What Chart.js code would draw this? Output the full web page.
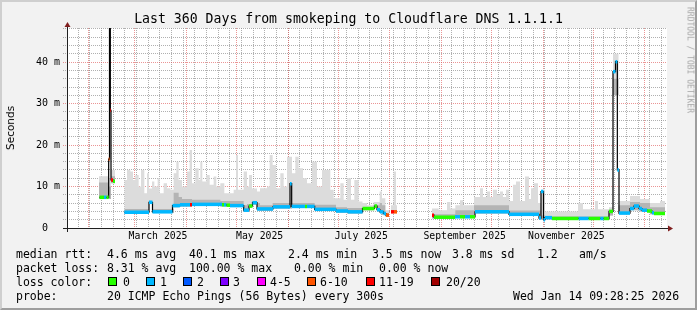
<!DOCTYPE html>
<html>
<head>
<meta charset="utf-8">
<script src="https://cdn.jsdelivr.net/npm/chart.js@4.4.1/dist/chart.umd.min.js"></script>
<style>
  html, body { margin: 0; padding: 0; background: #f2f2f2; }
  #marco { position: relative; width: 697px; height: 310px; overflow: hidden; background: #f2f2f2; }
  #grafico { position: absolute; left: 0; top: 0; }
  #borde { position: absolute; left: 0; top: 0; width: 697px; height: 310px; box-sizing: border-box;
           border-top: 2px solid #cfcfcf; border-left: 2px solid #cfcfcf;
           border-right: 2px solid #9e9e9e; border-bottom: 2px solid #9e9e9e; pointer-events: none; }
  #titulo { position: absolute; left: 0; top: 11px; width: 697px; text-align: center;
            font-family: 'DejaVu Sans Mono', monospace; font-size: 13.2px; line-height: 16px; color: #000; white-space: pre; }
  .txt { position: absolute; font-family: 'DejaVu Sans Mono', monospace; font-size: 11.5px; line-height: 14px;
         color: #000; white-space: pre; }
  .caja { position: absolute; width: 7px; height: 7px; border: 1px solid #000; }
  #segundos { position: absolute; left: 10px; top: 128px; transform: translate(-50%, -50%) rotate(-90deg);
              font-family: 'DejaVu Sans', sans-serif; font-size: 10.5px; color: #000; white-space: nowrap; }
  #marca { position: absolute; left: 690px; top: 60px; transform: translate(-50%, -50%) rotate(90deg);
           font-family: 'DejaVu Sans Mono', monospace; font-size: 8px; color: #a8a8a8; white-space: nowrap; }
</style>
</head>
<body>
<div id="marco">
  <canvas id="grafico" width="697" height="310"></canvas>
  <div id="titulo"></div>
  <div id="segundos">Seconds</div>
  <div id="marca">RRDTOOL / TOBI OETIKER</div>
  <div id="leyenda"></div>
  <div id="borde"></div>
</div>
<script>
// Eje X en días desde el inicio (19 ene 2025 09:28:25), 360 días
const titulo = 'Last 360 Days from smokeping to Cloudflare DNS 1.1.1.1';
const diasTotales = 360;

// Mediana: día de inicio de cada tramo, valor (ms) y clase de pérdida
const medDia = [19.5, 22.2, 23.7, 25.0, 25.5, 26.0, 26.4, 27.6, 28.8,
    34.4, 49.2, 51.3, 63.3, 67.8, 73.8, 75.0, 93.0, 94.2, 95.7, 97.8,
    106.0, 109.2, 111.3, 114.0, 123.6, 133.8, 134.8, 142.8, 144.0, 148.6,
    161.4, 168.6, 177.3, 184.5, 186.0, 187.8, 189.9, 191.4, 193.2,
    194.4, 196.2, 198.0,
    219.0, 220.2, 232.8, 235.8, 238.8, 241.8, 244.8, 265.2, 283.2, 284.4,
    285.9, 286.8, 291.0, 307.0, 313.0, 320.0, 322.0, 325.2, 327.6, 329.1,
    330.2, 331.2, 337.8, 340.2, 343.2, 345.0, 348.0, 351.0, 352.2, 358.8];
const medValor = [7.4, 7.4, 7.4, 16.6, 55, 28.4, 11.6, 11.3, null,
    3.8, 6.2, 3.9, 5.4, 5.6, 5.6, 5.7, 5.6, 5.6, 5.5, 5.4,
    4.3, 5.3, 6.1, 4.6, 5.1, 10.7, 5.2, 5.2, 5.2, 4.5,
    4.1, 3.9, 4.7, 5.3, 4.4, 3.9, 3.5, 3.1, null,
    3.9, 3.9, null,
    3.1, 2.6, 2.7, 2.7, 2.7, 2.7, 3.9, 3.3, 2.4, 8.8,
    2.0, 2.5, 2.3, 2.3, 2.3, 2.3, 2.3, 4.0, 37.7, 40.1,
    14.0, 3.6, 4.7, 5.3, 4.7, 4.3, 4.1, 3.7, 3.5, null];
// índice en clasesPerdida
const medPerdida = [0, 1, 0, 5, 6, 6, 6, 0, null,
    1, 1, 1, 1, 1, 6, 1, 0, 1, 0, 1,
    1, 0, 1, 1, 1, 1, 1, 0, 1, 1,
    1, 1, 0, 0, 1, 1, 1, 5, null,
    6, 5, null,
    6, 0, 1, 0, 1, 0, 1, 1, 1, 1,
    1, 1, 0, 1, 0, 1, 0, 0, 1, 1,
    1, 1, 1, 1, 1, 1, 0, 1, 0, null];

// Humo: día de inicio, borde inferior, franja oscura y máximo (ms)
const humoDia = [19.2, 24.9, 26.4, 28.8,
    34.4, 36.0, 38.0, 39.6, 41.0, 43.0, 44.4, 46.4, 48.0, 49.2, 51.0, 52.4,
    54.4, 55.6, 58.0, 60.0, 62.0, 64.0, 65.6, 67.0, 69.0, 72.0, 73.6, 75.0,
    77.0, 79.0, 80.0, 81.2, 83.6, 85.6, 88.0, 89.6, 92.0, 94.4, 100.0, 101.4,
    102.6, 106.0, 108.0, 109.2, 111.0, 114.0, 115.8, 120.0, 121.6, 123.4,
    125.4, 128.0, 130.0, 132.0, 135.0, 137.0, 139.0, 141.6, 144.0, 147.0,
    148.6, 150.0, 153.0, 158.0, 160.0, 161.4, 164.0, 166.0, 168.0, 170.4,
    172.4, 175.0, 177.3, 180.0, 184.0, 186.0, 187.6, 189.0, 191.0, 193.2,
    194.4, 196.0, 197.4, 198.0,
    219.0, 223.0, 228.0, 230.0, 233.0, 235.8, 237.6, 244.2, 247.8, 249.6,
    252.0, 253.8, 255.6, 258.0, 259.8, 261.6, 263.4, 265.2, 267.6, 269.4,
    271.8, 274.8, 277.2, 278.4, 280.2, 282.6, 284.4, 286.8, 306.6, 309.6,
    316.8, 318.6, 325.2, 327.6, 330.9, 337.8, 343.8, 349.8, 355.8, 358.8];
const humoBajo = [7.0, 7.0, 10.8, null,
    3.5, 3.5, 3.5, 3.5, 3.5, 3.5, 3.5, 3.5, 3.5, 5.8, 3.6, 3.6,
    3.6, 3.6, 3.6, 3.6, 3.6, 5.0, 5.0, 5.2, 5.2, 5.2, 5.2, 5.3,
    5.3, 5.3, 5.3, 5.3, 5.3, 5.3, 5.3, 5.3, 5.2, 5.2, 5.1, 5.1,
    5.1, 3.9, 4.6, 4.8, 5.6, 4.2, 4.1, 4.1, 4.1, 4.7,
    4.7, 4.7, 4.7, 4.7, 4.8, 4.8, 4.8, 4.8, 4.8, 4.8,
    4.1, 4.1, 4.1, 4.1, 4.1, 3.7, 3.7, 3.7, 3.5, 3.5,
    3.5, 3.5, 4.3, 4.3, 4.9, 4.0, 3.6, 3.2, 2.8, null,
    3.6, 3.6, 3.6, null,
    2.3, 2.3, 2.3, 2.3, 2.4, 2.4, 2.4, 3.5, 3.5, 3.5,
    3.5, 3.5, 3.5, 3.5, 3.5, 3.5, 3.5, 3.0, 3.0, 3.0,
    3.0, 3.0, 3.0, 3.0, 3.0, 3.0, 2.0, 2.1, 2.1, 2.1,
    2.1, 2.1, 3.0, 32.0, 3.3, 4.3, 4.0, 3.3, 3.2, null];
const humoMedio = [11.0, 10.0, 12.5, null,
    4.6, 4.6, 4.6, 4.6, 4.6, 4.6, 4.6, 4.6, 4.6, 6.6, 4.6, 4.6,
    4.6, 4.6, 4.6, 4.6, 4.6, 8.5, 8.5, 7.5, 7.0, 7.0, 7.0, 6.8,
    6.8, 6.8, 6.8, 6.8, 6.8, 6.8, 6.8, 6.8, 6.5, 6.5, 6.5, 6.5,
    6.5, 5.5, 5.8, 5.8, 6.5, 6.0, 5.5, 5.5, 5.5, 6.0,
    6.0, 6.0, 6.0, 6.0, 6.0, 6.0, 6.0, 6.0, 6.0, 6.0,
    5.6, 5.6, 5.6, 5.6, 5.6, 5.0, 5.0, 5.0, 4.8, 4.8,
    4.8, 4.8, 5.0, 5.0, 5.6, 5.5, 6.0, 5.5, 3.6, null,
    4.3, 4.3, 4.3, null,
    3.3, 3.3, 3.3, 3.3, 4.3, 4.3, 4.3, 5.5, 5.5, 5.5,
    5.5, 5.5, 5.5, 5.5, 5.5, 5.5, 5.5, 4.2, 4.2, 4.2,
    4.2, 4.2, 4.2, 4.2, 4.2, 4.2, 3.0, 2.8, 2.8, 2.8,
    2.8, 2.8, 4.2, 36.0, 5.5, 6.3, 6.0, 5.0, 5.0, null];
const humoAlto = [12.5, 12.0, 14.0, null,
    11.6, 14.0, 13.6, 11.6, 12.8, 10.0, 14.0, 8.4, 13.2, 9.5, 11.2, 10.0,
    12.0, 8.4, 10.8, 9.6, 9.2, 13.2, 16.0, 11.6, 10.0, 13.6, 18.8, 10.8,
    14.4, 11.6, 16.0, 11.2, 12.8, 10.4, 12.4, 10.0, 10.8, 8.4, 9.2, 17.6,
    9.2, 13.6, 10.0, 12.8, 9.5, 8.8, 9.6, 10.0, 17.6, 15.2,
    9.6, 13.2, 10.0, 17.2, 13.2, 17.2, 14.4, 12.0, 10.8, 16.0,
    16.0, 10.0, 14.0, 9.2, 7.2, 7.2, 10.8, 6.8, 12.0, 6.8,
    11.6, 6.4, 6.0, 5.5, 6.3, 6.3, 8.8, 7.2, 4.3, null,
    5.5, 13.6, 5.5, null,
    4.7, 4.3, 6.3, 4.7, 5.5, 6.7, 5.5, 7.5, 9.6, 7.5,
    8.8, 7.5, 9.2, 8.0, 8.8, 7.5, 9.2, 6.5, 10.4, 11.2,
    6.5, 12.4, 7.0, 9.6, 10.8, 6.0, 9.2, 4.0, 6.0, 4.5,
    6.5, 4.5, 5.0, 42.0, 6.5, 7.7, 7.0, 6.0, 6.5, null];

// Clases de pérdida y sus colores
const clasesPerdida = ['0', '1', '2', '3', '4-5', '6-10', '11-19', '20/20'];
const coloresPerdida = ['#26ff00', '#00b8ff', '#0059ff', '#7e00ff', '#ff00ff', '#ff5500', '#ff0000', '#a10000'];

// Etiquetas del eje X (día del 15 de cada mes) y límites de mes
const etiquetasX = ['March 2025', 'May 2025', 'July 2025', 'September 2025', 'November 2025'];
const diasEtiquetaX = [54.6, 115.6, 176.6, 238.6, 299.6];
const diasMes = [12.6, 40.6, 71.6, 101.6, 132.6, 162.6, 193.6, 224.6, 254.6, 285.6, 315.6, 346.6];
const primerDomingo = 6.6;

// Eje Y
const yMax = 48.23;
const yEtiquetas = { 0: '0  ', 10: '10 m', 20: '20 m', 30: '30 m', 40: '40 m' };

// Texto de la leyenda
const leyenda = [
    { y: 247, piezas: [[16, 'median rtt:'], [107, '4.6 ms avg'], [189, '40.1 ms max'], [288, '2.4 ms min'],
        [372, '3.5 ms now'], [452, '3.8 ms sd'], [537, '1.2'], [579, 'am/s']] },
    { y: 261, piezas: [[16, 'packet loss:'], [107, '8.31 % avg'], [189, '100.00 % max'], [294, '0.00 % min'],
        [379, '0.00 % now']] },
    { y: 275, piezas: [[16, 'loss color:']] },
    { y: 289, piezas: [[16, 'probe:'], [107, '20 ICMP Echo Pings (56 Bytes) every 300s'], [513, 'Wed Jan 14 09:28:25 2026']] }
];
const cajasX = [108, 146, 183, 220, 257, 307, 366, 431];
const etiquetasCajaX = [123, 160, 197, 233, 270, 320, 379, 446];

document.getElementById('titulo').textContent = titulo;

// ---- construir la leyenda en HTML ----
const contLeyenda = document.getElementById('leyenda');
leyenda.forEach(fila => {
    fila.piezas.forEach(([x, t]) => {
        const d = document.createElement('div');
        d.className = 'txt';
        d.style.left = x + 'px';
        d.style.top = fila.y + 'px';
        d.textContent = t;
        contLeyenda.appendChild(d);
    });
});
clasesPerdida.forEach((c, i) => {
    const caja = document.createElement('div');
    caja.className = 'caja';
    caja.style.left = cajasX[i] + 'px';
    caja.style.top = '277px';
    caja.style.background = coloresPerdida[i];
    contLeyenda.appendChild(caja);
    const t = document.createElement('div');
    t.className = 'txt';
    t.style.left = etiquetasCajaX[i] + 'px';
    t.style.top = '275px';
    t.textContent = c;
    contLeyenda.appendChild(t);
});

// ---- datos para Chart.js ----
function escalonada(dias, valores) {
    const puntos = [];
    dias.forEach((d, i) => {
        puntos.push({ x: d, y: valores[i] });
        if (valores[i] !== null && i + 1 < dias.length && valores[i + 1] === null) {
            puntos.push({ x: dias[i + 1], y: valores[i] });
        }
    });
    return puntos;
}

const datosPerdida = [];
medDia.forEach((d, i) => {
    if (medValor[i] === null) return;
    const fin = medDia[i + 1];
    datosPerdida.push({ x: d, y: medValor[i], c: medPerdida[i] });
    datosPerdida.push({ x: fin, y: medValor[i], c: medPerdida[i] });
    datosPerdida.push({ x: fin, y: null, c: null });
});

const colorRejilla = 'rgba(143,143,143,0.7)';
const colorRejillaMayor = 'rgba(222,79,79,0.6)';

// marcas del eje X: semanas (rejilla menor), meses (mayor) y etiquetas
const marcasX = [];
for (let d = primerDomingo; d < diasTotales; d += 7) marcasX.push({ value: d, tipo: 'semana' });
diasMes.forEach(d => marcasX.push({ value: d, tipo: 'mes' }));
diasEtiquetaX.forEach((d, i) => marcasX.push({ value: d, tipo: 'etiqueta', texto: etiquetasX[i] }));
marcasX.sort((a, b) => a.value - b.value);

const marcasY = [];
for (let v = 0; v <= 48; v += 2) marcasY.push({ value: v });

const fuenteMono = "'DejaVu Sans Mono', monospace";

const fondoYEjes = {
    id: 'fondoYEjes',
    beforeDraw(chart) {
        const { ctx, chartArea: a } = chart;
        ctx.save();
        ctx.fillStyle = '#ffffff';
        ctx.fillRect(a.left, a.top, a.right - a.left, a.bottom - a.top);
        ctx.restore();
    },
    afterDraw(chart) {
        const { ctx, chartArea: a } = chart;
        const x0 = Math.round(a.left) + 0.5;
        const y0 = Math.round(a.bottom) + 0.5;
        ctx.save();
        ctx.strokeStyle = '#1f1f1f';
        ctx.lineWidth = 1;
        ctx.beginPath();
        ctx.moveTo(a.left - 4, y0);
        ctx.lineTo(a.right + 1, y0);
        ctx.moveTo(x0, a.bottom + 4);
        ctx.lineTo(x0, a.top - 2);
        ctx.stroke();
        ctx.fillStyle = '#801f1f';
        ctx.beginPath();
        ctx.moveTo(a.right + 1, y0 - 3);
        ctx.lineTo(a.right + 6, y0);
        ctx.lineTo(a.right + 1, y0 + 3);
        ctx.closePath();
        ctx.fill();
        ctx.beginPath();
        ctx.moveTo(x0 - 3, a.top - 1);
        ctx.lineTo(x0, a.top - 6);
        ctx.lineTo(x0 + 3, a.top - 1);
        ctx.closePath();
        ctx.fill();
        ctx.restore();
    }
};

const comunes = { pointRadius: 0, pointHoverRadius: 0, borderJoinStyle: 'miter', borderCapStyle: 'butt', spanGaps: false };

const ctx = document.getElementById('grafico').getContext('2d');
const grafico = new Chart(ctx, {
    type: 'line',
    data: {
        datasets: [
            {   // 0: mediana coloreada según pérdida
                ...comunes,
                data: datosPerdida,
                borderWidth: 3.5,
                borderColor: '#00b8ff',
                segment: {
                    borderColor: c => {
                        const p = datosPerdida[c.p0DataIndex];
                        return p && p.c !== null ? coloresPerdida[p.c] : 'rgba(0,0,0,0)';
                    }
                },
                fill: false
            },
            {   // 1: mediana (línea negra escalonada)
                ...comunes,
                data: escalonada(medDia, medValor),
                stepped: true,
                borderWidth: 1.2,
                borderColor: '#000000',
                fill: false
            },
            {   // 2: humo oscuro
                ...comunes,
                data: escalonada(humoDia, humoMedio),
                stepped: true,
                borderWidth: 0,
                borderColor: 'rgba(0,0,0,0)',
                backgroundColor: '#b4b4b4',
                fill: 4
            },
            {   // 3: humo claro
                ...comunes,
                data: escalonada(humoDia, humoAlto),
                stepped: true,
                borderWidth: 0,
                borderColor: 'rgba(0,0,0,0)',
                backgroundColor: '#dcdcdc',
                fill: 4
            },
            {   // 4: borde inferior del humo
                ...comunes,
                data: escalonada(humoDia, humoBajo),
                stepped: true,
                borderWidth: 0,
                borderColor: 'rgba(0,0,0,0)',
                fill: false
            }
        ]
    },
    options: {
        responsive: false,
        animation: false,
        events: [],
        layout: { padding: { left: 0, right: 30, top: 28, bottom: 0 } },
        plugins: {
            legend: { display: false },
            tooltip: { enabled: false }
        },
        scales: {
            x: {
                type: 'linear',
                min: 0,
                max: diasTotales,
                afterBuildTicks: s => { s.ticks = marcasX.map(m => ({ ...m })); },
                afterFit: s => { s.height = 82; },
                ticks: {
                    autoSkip: false,
                    maxRotation: 0,
                    minRotation: 0,
                    padding: 3,
                    color: '#000',
                    font: { family: fuenteMono, size: 9.8 },
                    callback: (v, i, t) => t[i].tipo === 'etiqueta' ? t[i].texto : ''
                },
                grid: {
                    drawTicks: false,
                    lineWidth: 1,
                    color: c => c.tick.tipo === 'mes' ? colorRejillaMayor
                        : (c.tick.tipo === 'semana' ? colorRejilla : 'rgba(0,0,0,0)')
                },
                border: { display: false, dash: [1, 1] }
            },
            y: {
                min: 0,
                max: yMax,
                afterBuildTicks: s => { s.ticks = marcasY.map(m => ({ ...m })); },
                afterFit: s => { s.width = 67; },
                ticks: {
                    autoSkip: false,
                    padding: 3,
                    color: '#000',
                    font: { family: fuenteMono, size: 10 },
                    callback: v => (yEtiquetas[v] !== undefined ? yEtiquetas[v] : '')
                },
                grid: {
                    drawTicks: true,
                    tickLength: 4,
                    lineWidth: 1,
                    tickBorderDash: [1, 1],
                    color: c => (c.tick.value % 10 === 0 ? colorRejillaMayor : colorRejilla),
                    tickColor: c => (c.tick.value % 10 === 0 ? colorRejillaMayor : colorRejilla)
                },
                border: { display: false, dash: [1, 1] }
            }
        }
    },
    plugins: [fondoYEjes]
});
</script>
</body>
</html>
